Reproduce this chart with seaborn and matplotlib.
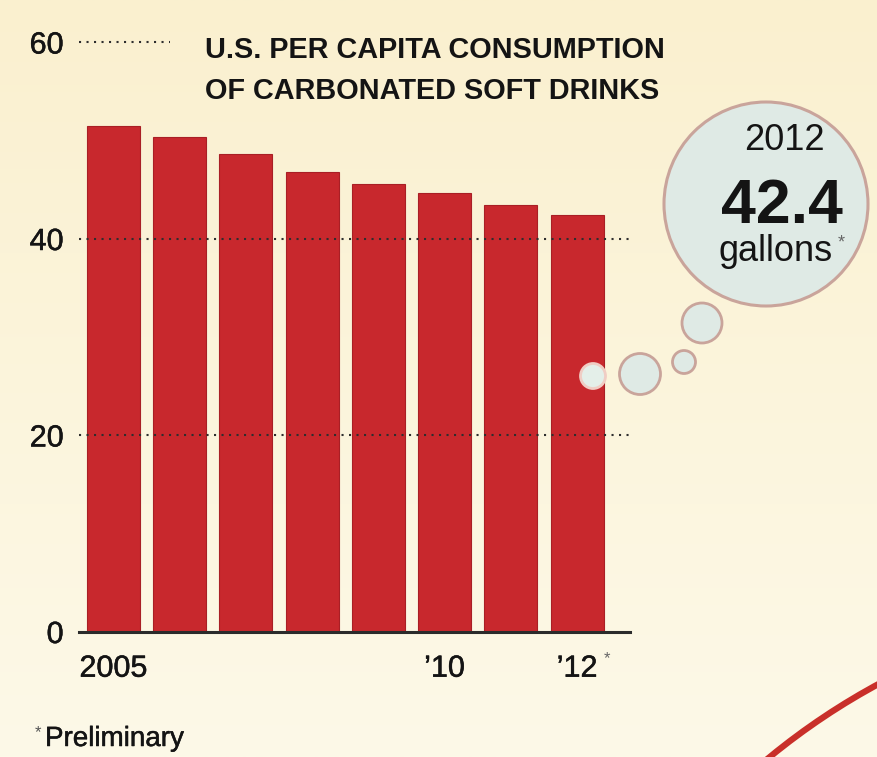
import numpy as np
import pandas as pd
import matplotlib
matplotlib.use("Agg")
import matplotlib.pyplot as plt
import matplotlib.patheffects as pe
from matplotlib.colors import to_rgb
from matplotlib.patches import Circle
import seaborn as sns

# U.S. per capita consumption of carbonated soft drinks, gallons
years = ["2005", "2006", "2007", "2008", "2009", "2010", "2011", "2012"]
gallons = [51.4, 50.3, 48.6, 46.8, 45.5, 44.6, 43.4, 42.4]
tick_years = ["2005", "2010", "2012"]
tick_labels = ["2005", "\u201910", "\u201912"]
y_ticks = [0, 20, 40, 60]

sns.set_style("white")
plt.rcParams["font.family"] = ["Liberation Sans", "DejaVu Sans"]

INK = "#141414"
RED = "#c8282d"
# a hairline stroke gives the regular face a slightly heavier weight
MEDIUM = [pe.withStroke(linewidth=0.35, foreground=INK)]
W, H = 877, 757
fig = plt.figure(figsize=(W / 100, H / 100), dpi=100)

# cream paper background, a little warmer at the top
bg = fig.add_axes([0, 0, 1, 1], zorder=0)
top_c = np.array(to_rgb("#faf0cf"))
bot_c = np.array(to_rgb("#fdf9e8"))
t = np.linspace(0, 1, 256)[:, None]
grad = (top_c * (1 - t) + bot_c * t)[:, None, :]
bg.imshow(grad, aspect="auto", extent=(0, 1, 0, 1), origin="upper")
bg.set_xlim(0, 1)
bg.set_ylim(0, 1)
bg.axis("off")

# bar chart
ax = fig.add_axes([79 / W, (H - 631.5) / H, (630 - 79) / W, (631.5 - 42) / H], zorder=1)
ax.patch.set_alpha(0)
df = pd.DataFrame({"year": years, "gallons": gallons})
sns.barplot(data=df, x="year", y="gallons", order=years, color=RED, saturation=1,
            width=0.8, edgecolor="#a91f25", linewidth=0.8, ax=ax, zorder=2)
x0, x1 = -0.52, 7.80
ax.set_xlim(x0, x1)
ax.set_ylim(0, 60)

dots = dict(color="#2e2e2e", lw=1.5, ls=(0, (1, 2.6)), zorder=3)
for v in (20, 40):
    ax.axhline(v, **dots)
ax.hlines(60, x0, 0.85, clip_on=False, **dots)

ax.set_yticks(y_ticks)
ax.set_yticklabels([str(v) for v in y_ticks], fontsize=22, color=INK)
ax.set_xticks([years.index(y) for y in tick_years])
ax.set_xticklabels(tick_labels, fontsize=22, color=INK)
for lab in ax.get_xticklabels() + ax.get_yticklabels():
    lab.set_path_effects(MEDIUM)
ax.tick_params(axis="y", length=0, pad=11)
ax.tick_params(axis="x", length=0, pad=16)
ax.set_xlabel("")
ax.set_ylabel("")
for side in ("left", "top", "right"):
    ax.spines[side].set_visible(False)
ax.spines["bottom"].set_linewidth(2.2)
ax.spines["bottom"].set_color("#2b2b2b")
ax.spines["bottom"].set_zorder(4)
ax.annotate("*", xy=(years.index("2012"), 0), xytext=(30, -27), textcoords="offset pixels",
            ha="center", va="center", fontsize=12, color="#666666")

# title
fig.text(205 / W, 1 - 58 / H, "U.S. PER CAPITA CONSUMPTION",
         fontweight="bold", fontsize=20.8, color=INK, va="baseline")
fig.text(205 / W, 1 - 99 / H, "OF CARBONATED SOFT DRINKS",
         fontweight="bold", fontsize=20.8, color=INK, va="baseline")

# footnote
fig.text(35 / W, 1 - 733 / H, "*", fontsize=12, color="#555555", va="center")
fig.text(45 / W, 1 - 746 / H, "Preliminary", fontsize=20, color=INK, va="baseline",
         path_effects=MEDIUM)

# thought bubble callout, drawn in pixel units
fg = fig.add_axes([0, 0, 1, 1], zorder=3)
fg.set_xlim(0, W)
fg.set_ylim(H, 0)
fg.patch.set_alpha(0)
fg.axis("off")

EDGE = "#c9a49b"
FILL = "#dfeae5"
fg.add_patch(Circle((766, 204), 102, facecolor=FILL, edgecolor=EDGE, lw=2.2))
fg.add_patch(Circle((702, 323), 20, facecolor=FILL, edgecolor=EDGE, lw=2.0))
fg.add_patch(Circle((684, 362), 11.5, facecolor=FILL, edgecolor=EDGE, lw=2.0))
fg.add_patch(Circle((640, 374), 20.5, facecolor=FILL, edgecolor=EDGE, lw=2.0))
fg.add_patch(Circle((593, 376), 12.5, facecolor="#e4efe9", edgecolor="#f0cdc4", lw=2.0))

fg.text(784, 150, years[-1], ha="center", va="baseline", fontsize=26, color=INK)
fg.text(782, 223, f"{gallons[-1]:.1f}", ha="center", va="baseline", fontsize=45,
        fontweight="bold", color=INK)
fg.text(776, 261, "gallons", ha="center", va="baseline", fontsize=26, color=INK)
fg.text(841, 243, "*", ha="center", va="center", fontsize=13, color="#666666")

# red rim of a plate peeking in at the lower right corner
fg.add_patch(Circle((1203, 1285), 683, fill=False, edgecolor="#c9302a", lw=4.5))

fig.savefig("out.png", dpi=100)
